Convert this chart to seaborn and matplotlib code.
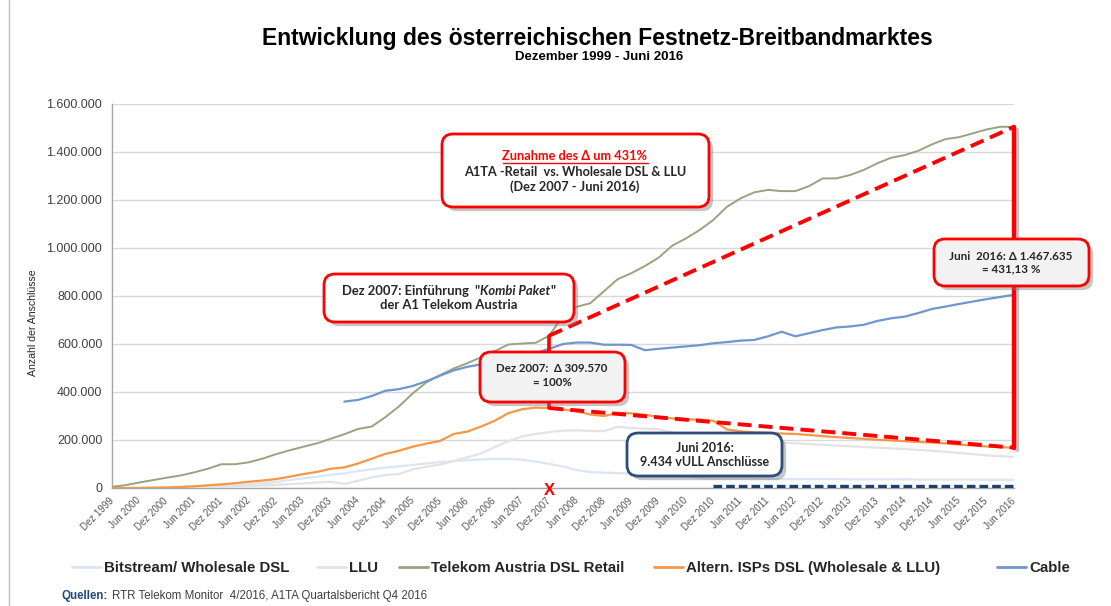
import numpy as np
import pandas as pd
import matplotlib
matplotlib.use("Agg")
import matplotlib.pyplot as plt
import matplotlib.patheffects as pe
from matplotlib.patches import FancyBboxPatch
from matplotlib.lines import Line2D
from matplotlib.transforms import IdentityTransform
from matplotlib.ticker import FuncFormatter, FixedLocator
import seaborn as sns

# ---------------- data (thousands of connections, quarterly Dez 1999 .. Jun 2016) -------------
tick_labels = ["Dez 1999", "Jun 2000", "Dez 2000", "Jun 2001", "Dez 2001", "Jun 2002", "Dez 2002",
               "Jun 2003", "Dez 2003", "Jun 2004", "Dez 2004", "Jun 2005", "Dez 2005", "Jun 2006",
               "Dez 2006", "Jun 2007", "Dez 2007", "Jun 2008", "Dez 2008", "Jun 2009", "Dez 2009",
               "Jun 2010", "Dez 2010", "Jun 2011", "Dez 2011", "Jun 2012", "Dez 2012", "Jun 2013",
               "Dez 2013", "Jun 2014", "Dez 2014", "Jun 2015", "Dez 2015", "Jun 2016"]

bitstream = [0, 0, 1, 2, 3, 5, 7, 9, 11, 13, 16, 20, 25, 33, 40, 47, 55, 61, 70, 78, 85, 90, 96,
             102, 108, 112, 116, 119, 121, 121, 118, 110, 100, 90, 75, 66, 64, 62, 60, 58, 56, 52,
             47, 42, 38, 38, 38, 37, 37, 37, 37, 37, 37, 37, 36, 36, 36, 36, 36, 35, 35, 35, 35,
             35, 34, 34, 34]
llu = [0, 0, 0, 0, 0, 0, 1, 3, 5, 7, 9, 11, 13, 16, 19, 23, 26, 17, 30, 44, 54, 58, 78, 88, 98,
       112, 128, 144, 170, 195, 215, 225, 233, 239, 240, 238, 237, 255, 250, 247, 245, 232, 222,
       218, 215, 205, 200, 197, 193, 189, 186, 183, 180, 177, 174, 171, 168, 165, 162, 159, 155,
       151, 146, 141, 136, 133, 130]
ta_retail = [5, 12, 23, 33, 43, 52, 65, 80, 99, 99, 107, 122, 141, 157, 172, 186, 205, 224, 246,
             256, 295, 340, 394, 440, 470, 498, 520, 545, 570, 598, 602, 605, 635, 718, 755, 770,
             820, 870, 895, 925, 960, 1010, 1040, 1075, 1117, 1172, 1207, 1232, 1242, 1237, 1237,
             1258, 1290, 1290, 1304, 1325, 1353, 1376, 1387, 1405, 1432, 1454, 1462, 1478, 1494,
             1505, 1505]
altern_isps = [0, 0, 0, 1, 2, 4, 7, 11, 15, 20, 26, 31, 37, 47, 58, 67, 80, 86, 102, 122, 142, 155,
               172, 185, 196, 225, 235, 256, 280, 312, 328, 335, 333, 327, 320, 306, 300, 313, 311,
               305, 296, 290, 286, 285, 280, 244, 236, 232, 230, 227, 225, 221, 216, 212, 208, 205,
               201, 198, 195, 192, 189, 186, 181, 177, 173, 170, 168]
cable_start = 17
cable = [360, 367, 383, 405, 412, 425, 445, 468, 490, 505, 515, 527, 540, 550, 562, 580, 600, 606,
         606, 597, 597, 596, 574, 580, 585, 590, 595, 603, 608, 614, 617, 632, 651, 632, 645, 658,
         669, 673, 680, 696, 707, 714, 729, 746, 756, 767, 777, 787, 796, 805]
vull_start = 44
vull = [9.434, 9.434, 9.434, 9.434, 9.434, 9.434, 9.434, 9.434, 9.434, 9.434, 9.434, 9.434,
        9.434, 9.434, 9.434, 9.434, 9.434, 9.434, 9.434, 9.434, 9.434, 9.434, 9.434]

series_names = ["Bitstream/ Wholesale DSL", "LLU", "Telekom Austria DSL Retail",
                "Altern. ISPs DSL (Wholesale & LLU)", "Cable"]
colors = {"Bitstream/ Wholesale DSL": "#DCE6F2", "LLU": "#E3E3E3",
          "Telekom Austria DSL Retail": "#98A47F",
          "Altern. ISPs DSL (Wholesale & LLU)": "#F79646", "Cable": "#6F96CF"}
widths = {"Bitstream/ Wholesale DSL": 1.6, "LLU": 1.6, "Telekom Austria DSL Retail": 1.4,
          "Altern. ISPs DSL (Wholesale & LLU)": 1.6, "Cable": 1.6}

rows = []
for name, vals, start in [(series_names[0], bitstream, 0), (series_names[1], llu, 0),
                          (series_names[2], ta_retail, 0), (series_names[3], altern_isps, 0),
                          (series_names[4], cable, cable_start), ("vULL", vull, vull_start)]:
    for k, v in enumerate(vals):
        rows.append({"q": start + k, "value": v * 1000, "series": name})
df = pd.DataFrame(rows)

# ---------------- figure ----------------
W, H = 1111, 606
sns.set_theme(style="white")
plt.rcParams["font.family"] = ["Liberation Sans", "DejaVu Sans"]
fig = plt.figure(figsize=(W / 100, H / 100), dpi=100)
fig.patch.set_facecolor("white")


def fx(x):
    return x / W


def fy(y):
    return 1 - y / H


ax = fig.add_axes([fx(112), fy(488), fx(1014) - fx(112), fy(104) - fy(488)])
ax.set_facecolor("white")

for name in series_names:
    sub = df[df.series == name]
    sns.lineplot(data=sub, x="q", y="value", color=colors[name], lw=widths[name], ax=ax,
                 legend=False, zorder=3)
sub = df[df.series == "vULL"]
sns.lineplot(data=sub, x="q", y="value", color="#1F3F6E", lw=2.4, ax=ax, legend=False,
             zorder=4, linestyle=(0, (2.6, 1.2)))

n_q = len(ta_retail)
ax.set_xlim(0, n_q - 1)
ax.set_ylim(0, 1600000)
ax.yaxis.set_major_locator(FixedLocator(np.arange(0, 1600001, 200000)))
ax.yaxis.set_major_formatter(FuncFormatter(lambda v, p: f"{v:,.0f}".replace(",", ".")))
tick_pos = list(range(0, n_q, 2))
ax.set_xticks(tick_pos)
ax.set_xticklabels(tick_labels, rotation=45, ha="right", va="center", rotation_mode="anchor",
                   fontsize=7, color="#595959")
ax.tick_params(axis="x", length=4, width=0.8, color="#A6A6A6", pad=4, direction="out")
ax.tick_params(axis="y", length=4, width=0.8, color="#A6A6A6", labelsize=9, labelcolor="#404040",
               pad=3, direction="out")
ax.grid(axis="y", color="#D9D9D9", lw=1)
ax.grid(axis="x", visible=False)
for s in ["top", "right"]:
    ax.spines[s].set_visible(False)
for s in ["left", "bottom"]:
    ax.spines[s].set_color("#A6A6A6")
    ax.spines[s].set_linewidth(1)
ax.set_xlabel("")
ax.set_ylabel("")

# red comparison lines (Dez 2007 -> Jun 2016)
i0, i1 = 32, n_q - 1
red = "#FF0000"
ax.plot([i0, i1], [ta_retail[i0] * 1000, ta_retail[i1] * 1000], color=red, lw=2.8,
        dashes=(3.6, 1.8), zorder=6)
ax.plot([i0, i1], [altern_isps[i0] * 1000, altern_isps[i1] * 1000], color=red, lw=2.8,
        dashes=(3.6, 1.8), zorder=6)
ax.plot([i0, i0], [altern_isps[i0] * 1000, ta_retail[i0] * 1000], color=red, lw=2.6, zorder=6)
ax.plot([i1, i1], [altern_isps[i1] * 1000, ta_retail[i1] * 1000], color=red, lw=3.2, zorder=6,
        clip_on=False, path_effects=[pe.SimpleLineShadow(offset=(2, -2), alpha=0.25), pe.Normal()])
ax.text(i0, -9000, "X", color=red, fontsize=12, fontweight="bold", ha="center", va="center",
        clip_on=False, zorder=10, family="Liberation Sans")

# ---------------- titles & labels ----------------
fig.text(fx(597), fy(39), "Entwicklung des österreichischen Festnetz-Breitbandmarktes",
         ha="center", va="center", fontsize=16.5, fontweight="bold", color="#000000")
fig.text(fx(599), fy(57), "Dezember 1999 - Juni 2016", ha="center", va="center", fontsize=9.5,
         fontweight="bold", color="#000000")
fig.text(fx(33), fy(323), "Anzahl der Anschlüsse", rotation=90, ha="center", va="center",
         fontsize=7.6, color="#262626", family=["Liberation Sans Narrow", "Liberation Sans"])

# frame line on the left
fig.add_artist(Line2D([fx(8.5), fx(8.5)], [0, 1], transform=fig.transFigure, color="#BFBFBF",
                      lw=1))

# ---------------- legend ----------------
leg_font = {"family": "Liberation Sans", "weight": "bold", "size": 10.8}
leg_x = [72, 317, 399, 654, 997]
for name, x in zip(series_names, leg_x):
    h = Line2D([], [], color=colors[name], lw=2)
    lg = fig.legend(handles=[h], labels=[name], loc="center left",
                    bbox_to_anchor=(fx(x), fy(568)), frameon=False, prop=leg_font,
                    handlelength=1.9, handletextpad=0.25, borderpad=0, borderaxespad=0)
    for t in lg.get_texts():
        t.set_color("#262626")

fig.canvas.draw()
renderer = fig.canvas.get_renderer()

ident = IdentityTransform()


def px_text(x, y, s, **kw):
    return fig.text(x, H - y, s, transform=ident, **kw)


def line_pieces(cx, y, pieces, size, color, family):
    objs = []
    for txt, extra in pieces:
        t = px_text(0, y, txt, fontsize=size, color=color, va="center", ha="left",
                    family=family, fontweight="bold", zorder=40, **extra)
        objs.append(t)
    ws = [o.get_window_extent(renderer).width for o in objs]
    total = sum(ws)
    x = cx - total / 2
    for o, w in zip(objs, ws):
        o.set_position((x, H - y))
        x += w
    return objs


def box(x0, y0, x1, y1, edge, face, lw=2.0):
    p = FancyBboxPatch((x0, H - y1), x1 - x0, y1 - y0,
                       boxstyle="round,pad=0,rounding_size=11", transform=ident,
                       facecolor=face, edgecolor=edge, lw=lw, zorder=20)
    p.set_path_effects([pe.SimplePatchShadow(offset=(3, -3), shadow_rgbFace="#7F7F7F",
                                             alpha=0.45), pe.Normal()])
    fig.add_artist(p)
    return p


box_font = ["Lato", "DejaVu Sans"]
dark = "#262626"

# box 1
box(442, 134, 709, 207, red, "white")
t = line_pieces(575, 156, [("Zunahme des Δ um 431%", {})], 9.2, red, box_font)[0]
bb = t.get_window_extent(renderer)
fig.add_artist(Line2D([bb.x0, bb.x1], [H - 163, H - 163], transform=ident, color=red, lw=1,
                      zorder=45))
line_pieces(575, 172, [("A1TA -Retail  vs. Wholesale DSL & LLU", {})], 9.2, dark, box_font)
line_pieces(575, 187, [("(Dez 2007 - Juni 2016)", {})], 9.2, dark, box_font)

# box 2
box(324, 274, 574, 322, red, "white")
line_pieces(449, 291, [("Dez 2007: Einführung  \"", {}), ("Kombi Paket", {"style": "italic"}),
                       ("\"", {})], 9.4, dark, box_font)
line_pieces(449, 305, [("der A1 Telekom Austria", {})], 9.4, dark, box_font)

# box 3
box(480, 352, 625, 402, red, "#F2F2F2")
line_pieces(552, 368, [("Dez 2007:  Δ 309.570", {})], 8.3, dark, box_font)
line_pieces(552, 382, [("= 100%", {})], 8.3, dark, box_font)

# box 4
box(934, 239, 1089, 286, red, "#F2F2F2")
line_pieces(1011, 256, [("Juni  2016: Δ 1.467.635", {})], 8.4, dark, box_font)
line_pieces(1011, 269, [("= 431,13 %", {})], 8.4, dark, box_font)

# box 5
box(627, 433, 782, 476, "#2E4D7B", "white")
line_pieces(705, 448, [("Juni 2016:", {})], 9.0, dark, box_font)
line_pieces(705, 462, [("9.434 vULL Anschlüsse", {})], 9.0, dark, box_font)

# source line
src_family = ["Liberation Sans Narrow", "Liberation Sans"]
q = px_text(62, 596, "Quellen:", fontsize=8.3, color="#1F497D", fontweight="bold", va="center",
            ha="left", family=src_family)
qb = q.get_window_extent(renderer)
px_text(qb.x1 + 4, 596, "RTR Telekom Monitor  4/2016, A1TA Quartalsbericht Q4 2016", fontsize=8.3,
        color="#404040", va="center", ha="left", family=src_family)

fig.savefig("out.png", dpi=100, facecolor="white")
